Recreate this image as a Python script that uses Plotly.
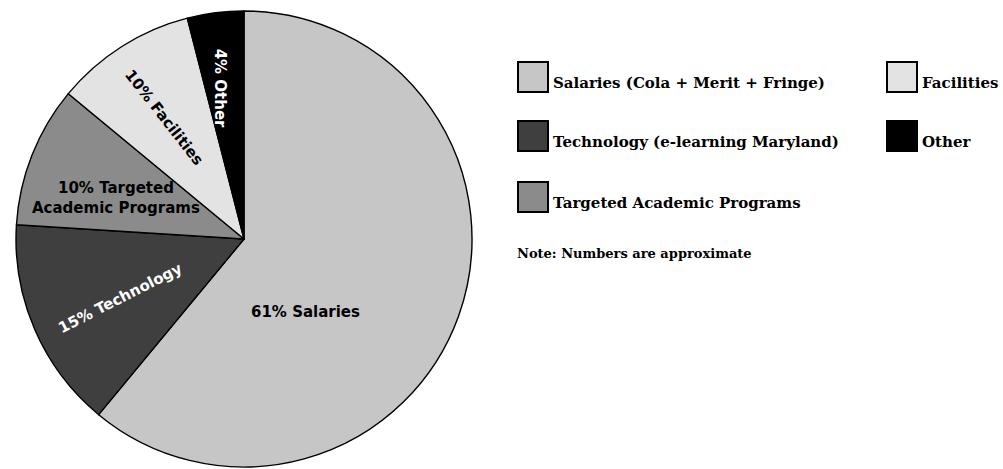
import numpy as np
import plotly.graph_objects as go

# Budget categories and their approximate shares (percent)
categories = [
    "Salaries (Cola + Merit + Fringe)",
    "Technology (e-learning Maryland)",
    "Targeted Academic Programs",
    "Facilities",
    "Other",
]
shares = [61, 15, 10, 10, 4]
slice_names = ["Salaries", "Technology", "Targeted<br>Academic Programs", "Facilities", "Other"]
note_text = "Note: Numbers are approximate"

# Styling
fills = ["#c6c6c6", "#3f3f3f", "#8b8b8b", "#e3e3e3", "#000000"]
label_colors = ["black", "white", "black", "black", "white"]
label_radius = [0.42, 0.60, 0.59, 0.64, 0.67]     # fraction of pie radius
label_nudge = [30, -2, -4, -1, -2]                 # degrees added to slice mid-angle
label_rotation = [0, -27, 0, 52, 90]

W, H = 1003, 469
cx, cy, R = 244, 239, 228  # pie centre / radius in pixels

fig = go.Figure()
fig.add_trace(go.Pie(
    values=shares,
    labels=categories,
    sort=False,
    direction="clockwise",
    rotation=0,
    textinfo="none",
    hoverinfo="label+percent",
    showlegend=False,
    marker=dict(colors=fills, line=dict(color="black", width=1.4)),
    domain=dict(x=[(cx - R) / W, (cx + R) / W], y=[1 - (cy + R) / H, 1 - (cy - R) / H]),
))

# Slice labels, placed from each slice's mid-angle
bounds = np.cumsum([0] + shares) / sum(shares) * 360.0
mids = (bounds[:-1] + bounds[1:]) / 2
for i, name in enumerate(slice_names):
    th = np.radians(mids[i] + label_nudge[i])
    r = label_radius[i] * R
    px = cx + r * np.sin(th)
    py = cy - r * np.cos(th)
    fig.add_annotation(
        x=px / W, y=1 - py / H, xref="paper", yref="paper",
        xanchor="center", yanchor="middle",
        text=f"{shares[i]}% {name}", showarrow=False,
        textangle=label_rotation[i],
        font=dict(family="DejaVu Sans", size=15, color=label_colors[i], weight="bold"),
        align="center",
    )

# Custom two-column legend
legend_slots = [
    (518, 62), (518, 121), (518, 182),   # left column
    (887, 62), (887, 121),                # right column
]
box = 30
for i, cat in enumerate(categories):
    x0, y0 = legend_slots[i]
    fig.add_shape(
        type="rect", xref="paper", yref="paper",
        x0=x0 / W, x1=(x0 + box) / W, y0=1 - (y0 + box) / H, y1=1 - y0 / H,
        fillcolor=fills[i], line=dict(color="black", width=2),
    )
    fig.add_annotation(
        x=(x0 + box + 3) / W, y=1 - (y0 + box + 2) / H, xref="paper", yref="paper",
        xanchor="left", yanchor="bottom", showarrow=False, text=cat,
        font=dict(family="DejaVu Serif", size=15, color="black", weight="bold"),
    )

fig.add_annotation(
    x=515 / W, y=1 - 253 / H, xref="paper", yref="paper",
    xanchor="left", yanchor="middle", showarrow=False, text=note_text,
    font=dict(family="DejaVu Serif", size=13, color="black", weight="bold"),
)

fig.update_layout(
    width=W, height=H,
    margin=dict(l=0, r=0, t=0, b=0),
    paper_bgcolor="white", plot_bgcolor="white",
)

fig.write_html("out.html")
